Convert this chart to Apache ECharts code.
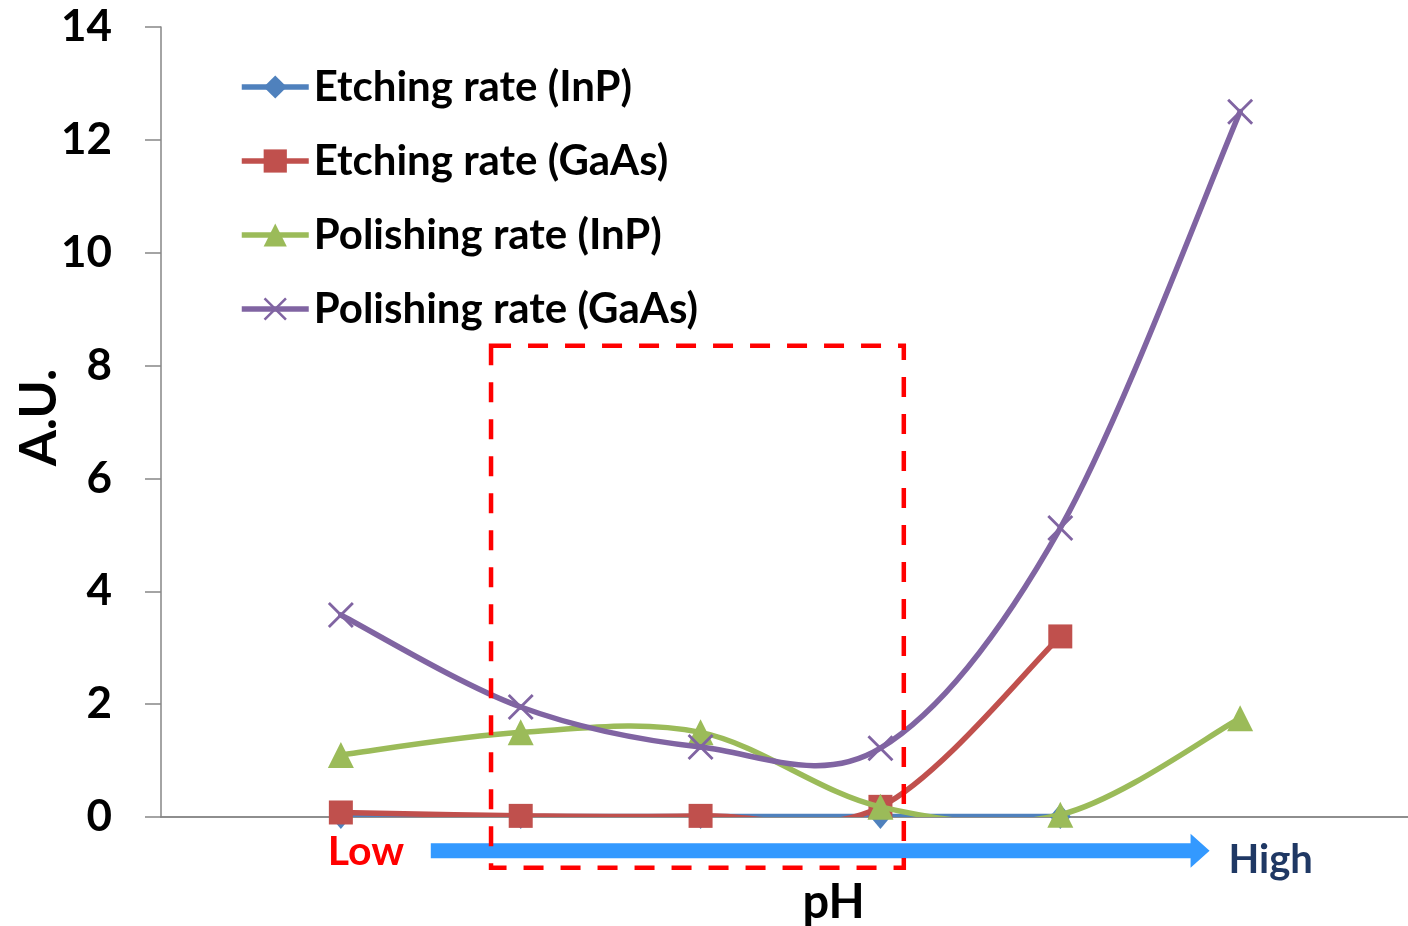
<!DOCTYPE html>
<html>
<head>
<meta charset="utf-8">
<script src="https://cdn.jsdelivr.net/npm/echarts@6/dist/echarts.min.js"></script>
<style>
  html, body { margin: 0; padding: 0; background: #ffffff; }
  #chart { width: 1408px; height: 926px; }
</style>
</head>
<body>
<div id="chart"></div>
<script>
// pH steps, from low to high (x positions along the pH axis)
const pHSteps = [1, 2, 3, 4, 5, 6];

// Rates in arbitrary units
const etchingInP    = [0.01, 0.01, 0.01, 0.01, 0.01];
const etchingGaAs   = [0.08, 0.02, 0.02, 0.18, 3.2];
const polishingInP  = [1.1, 1.5, 1.5, 0.18, 0.04, 1.75];
const polishingGaAs = [3.58, 1.95, 1.24, 1.22, 5.12, 12.5];

const seriesNames = [
  'Etching rate (InP)',
  'Etching rate (GaAs)',
  'Polishing rate (InP)',
  'Polishing rate (GaAs)'
];

// Value axis ticks
const yMin = 0, yMax = 14, yStep = 2;
const xMin = 0, xMax = 7;

// Highlighted pH window and the low→high arrow, in data units
const windowRange = { x0: 1.835, x1: 4.13, y0: -0.9, y1: 8.35 };
const arrowRange = { x0: 1.50, x1: 5.83, y: -0.6 };

const FONT = 'Lato';
const COLORS = ['#4F81BD', '#C0504D', '#9BBB59', '#8064A2'];
const LINE_WIDTH = 5.5;
const crossPath = 'path://M0,2L2,0L26,24L24,26Z M24,0L26,2L2,26L0,24Z';

function toPairs(vals) {
  return vals.map((v, i) => [pHSteps[i], v]);
}

// Markers (and legend entry) of one data set
function markerSeries(name, vals, color, symbol, size, z) {
  return {
    name: name,
    type: 'line',
    data: toPairs(vals),
    symbol: symbol,
    symbolSize: size,
    showSymbol: true,
    lineStyle: { color: color, width: LINE_WIDTH, opacity: 0 },
    itemStyle: { color: color },
    z: z
  };
}

// Smoothed connecting curve: cubic Bezier segments with Catmull-Rom tangents
function curveSeries(name, vals, color, z) {
  return {
    name: name,
    type: 'custom',
    data: toPairs(vals),
    z: z,
    clip: true,
    silent: true,
    renderItem: function (params, api) {
      if (params.dataIndex !== 0) return null;
      const pts = vals.map((v, i) => api.coord([pHSteps[i], v]));
      const n = pts.length;
      const children = [];
      for (let i = 0; i < n - 1; i++) {
        const p0 = pts[Math.max(i - 1, 0)];
        const p1 = pts[i];
        const p2 = pts[i + 1];
        const p3 = pts[Math.min(i + 2, n - 1)];
        children.push({
          type: 'bezierCurve',
          shape: {
            x1: p1[0], y1: p1[1],
            x2: p2[0], y2: p2[1],
            cpx1: p1[0] + (p2[0] - p0[0]) / 6,
            cpy1: p1[1] + (p2[1] - p0[1]) / 6,
            cpx2: p2[0] - (p3[0] - p1[0]) / 6,
            cpy2: p2[1] - (p3[1] - p1[1]) / 6
          },
          style: { stroke: color, lineWidth: LINE_WIDTH, fill: 'none', lineCap: 'round' }
        });
      }
      return { type: 'group', children: children };
    }
  };
}

const chart = echarts.init(document.getElementById('chart'));

const option = {
  backgroundColor: '#ffffff',
  animation: false,
  grid: { left: 161, top: 27, width: 1259, height: 790, containLabel: false, outerBoundsMode: 'none' },
  legend: {
    orient: 'vertical',
    left: 239,
    top: 66,
    padding: 0,
    itemWidth: 67,
    itemHeight: 29,
    itemGap: 32,
    lineStyle: { width: LINE_WIDTH, opacity: 1 },
    textStyle: { fontFamily: FONT, fontWeight: 'bold', fontSize: 42, color: '#000000', lineHeight: 42 },
    data: seriesNames
  },
  xAxis: [
    {
      type: 'value',
      min: xMin, max: xMax,
      axisLine: { show: true, onZero: false, lineStyle: { color: '#868686', width: 1.5 } },
      axisTick: { show: false },
      axisLabel: { show: false },
      splitLine: { show: false }
    },
    {
      type: 'value',
      position: 'top',
      min: xMin, max: xMax,
      axisLine: { show: true, lineStyle: { color: '#868686', width: 1.5 } },
      axisTick: { show: false },
      axisLabel: { show: false },
      splitLine: { show: false }
    }
  ],
  yAxis: {
    type: 'value',
    min: yMin, max: yMax, interval: yStep,
    name: 'A.U.',
    nameLocation: 'middle',
    nameGap: 96,
    nameRotate: 90,
    nameMoveOverlap: false,
    nameTextStyle: { fontFamily: FONT, fontWeight: 'bold', fontSize: 52, color: '#000000', padding: [0, 0, 0, 9] },
    axisLine: { show: true, lineStyle: { color: '#868686', width: 1.5 } },
    axisTick: { show: true, inside: false, length: 16, lineStyle: { color: '#868686', width: 1.5 } },
    axisLabel: { margin: 49, fontFamily: FONT, fontWeight: 'bold', fontSize: 44, color: '#000000' },
    splitLine: { show: false }
  },
  series: [
    markerSeries(seriesNames[0], etchingInP, COLORS[0], 'diamond', [21, 25], 3),
    markerSeries(seriesNames[1], etchingGaAs, COLORS[1], 'rect', 24, 5),
    markerSeries(seriesNames[2], polishingInP, COLORS[2], 'triangle', [26, 26], 7),
    markerSeries(seriesNames[3], polishingGaAs, COLORS[3], crossPath, 26, 9),
    curveSeries(seriesNames[0], etchingInP, COLORS[0], 2),
    curveSeries(seriesNames[1], etchingGaAs, COLORS[1], 4),
    curveSeries(seriesNames[2], polishingInP, COLORS[2], 6),
    curveSeries(seriesNames[3], polishingGaAs, COLORS[3], 8)
  ]
};

chart.setOption(option);

// Annotations placed through the grid's coordinate system
const p = (x, y) => chart.convertToPixel({ gridIndex: 0 }, [x, y]);
const wTL = p(windowRange.x0, windowRange.y1);
const wBR = p(windowRange.x1, windowRange.y0);
const aS = p(arrowRange.x0, arrowRange.y);
const aE = p(arrowRange.x1, arrowRange.y);
const shaftHalf = 7.5, headHalf = 17, headLen = 19;
const lowPos = p(1.14, -0.62);
const highPos = p(6.17, -0.76);
const phPos = p(3.74, -1.52);

function label(pos, text, color, size) {
  return {
    type: 'text',
    z: 120,
    x: pos[0], y: pos[1],
    style: {
      text: text, fill: color,
      font: 'bold ' + size + 'px ' + FONT,
      textAlign: 'center', textVerticalAlign: 'middle'
    }
  };
}

chart.setOption({
  graphic: [
    {
      type: 'polygon',
      z: 100,
      shape: {
        points: [
          [aS[0], aS[1] - shaftHalf],
          [aE[0] - headLen, aE[1] - shaftHalf],
          [aE[0] - headLen, aE[1] - headHalf],
          [aE[0], aE[1]],
          [aE[0] - headLen, aE[1] + headHalf],
          [aE[0] - headLen, aE[1] + shaftHalf],
          [aS[0], aS[1] + shaftHalf]
        ]
      },
      style: { fill: '#3399FF' }
    },
    {
      type: 'rect',
      z: 110,
      shape: { x: wTL[0], y: wTL[1], width: wBR[0] - wTL[0], height: wBR[1] - wTL[1] },
      style: { fill: 'none', stroke: '#FF0000', lineWidth: 4.5, lineDash: [20, 17] }
    },
    label(lowPos, 'Low', '#FF0000', 41),
    label(highPos, 'High', '#1F3864', 40),
    label(phPos, 'pH', '#000000', 47)
  ]
});
</script>
</body>
</html>
